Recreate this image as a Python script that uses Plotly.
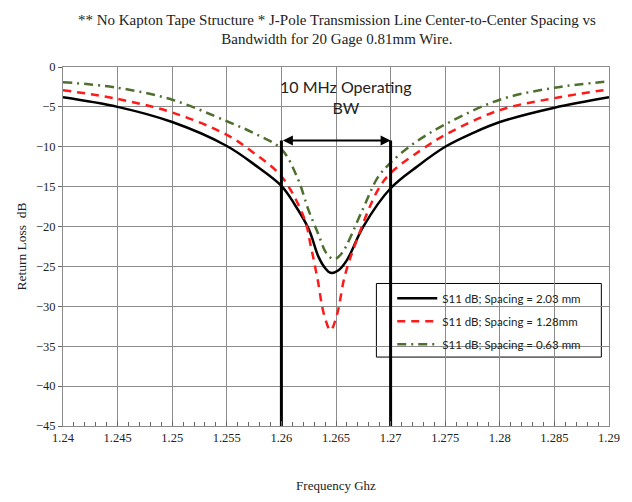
import plotly.graph_objects as go

# ---- data ----
freq_black = [1.24, 1.245, 1.25, 1.255, 1.2576, 1.26, 1.2612, 1.2625, 1.2634, 1.264, 1.2645,
              1.2652, 1.266, 1.2675, 1.27, 1.2725, 1.275, 1.2775, 1.28, 1.285, 1.29]
s11_black = [-3.8, -5.0, -6.9, -9.9, -12.3, -14.9, -17.2, -20.3, -23.8, -25.2, -25.8,
             -25.5, -24.2, -20.0, -15.2, -12.4, -10.0, -8.3, -6.9, -5.1, -3.8]

freq_red = [1.24, 1.245, 1.25, 1.255, 1.2575, 1.26, 1.2621, 1.2627, 1.2633, 1.2639, 1.2645,
            1.2651, 1.2658, 1.2669, 1.2688, 1.27, 1.2727, 1.275, 1.28, 1.285, 1.29]
s11_red = [-2.9, -4.0, -5.7, -8.5, -10.8, -13.7, -19.0, -22.5, -26.5, -31.0, -33.0,
           -31.0, -26.2, -21.7, -15.5, -13.3, -10.5, -8.5, -5.4, -3.9, -2.8]

freq_green = [1.24, 1.245, 1.25, 1.255, 1.2575, 1.26, 1.2615, 1.2625, 1.2634, 1.2641, 1.2648,
              1.2655, 1.2674, 1.2688, 1.27, 1.2721, 1.275, 1.28, 1.285, 1.29]
s11_green = [-1.9, -2.6, -4.1, -6.8, -8.3, -10.3, -14.0, -18.0, -21.0, -23.3, -24.1,
             -23.4, -18.0, -13.9, -12.0, -9.6, -7.2, -4.1, -2.6, -1.8]

series_names = ["S11 dB; Spacing = 2.03 mm", "S11 dB; Spacing = 1.28mm", "S11 dB; Spacing = 0.63 mm"]

bw_edges = [1.26, 1.27]
bw_top = -9.2
bw_label = "10 MHz Operating<br>BW"
x_ticks = [1.24, 1.245, 1.25, 1.255, 1.26, 1.265, 1.27, 1.275, 1.28, 1.285, 1.29]
x_tick_labels = ["1.24", "1.245", "1.25", "1.255", "1.26", "1.265", "1.27", "1.275", "1.28", "1.285", "1.29"]
y_ticks = [0, -5, -10, -15, -20, -25, -30, -35, -40, -45]

SERIF = "Liberation Serif, Times New Roman, serif"
SANS = "Lato, Open Sans, sans-serif"

fig = go.Figure()

fig.add_trace(go.Scatter(x=freq_black, y=s11_black, mode="lines", name=series_names[0],
                         line=dict(color="black", width=2.5, shape="spline", smoothing=1.0),
                         legendgroup="a"))
fig.add_trace(go.Scatter(x=freq_red, y=s11_red, mode="lines", name=series_names[1],
                         line=dict(color="#ff1a1a", width=2.5, dash="8px,6px", shape="spline", smoothing=1.0),
                         legendgroup="b"))
fig.add_trace(go.Scatter(x=freq_green, y=s11_green, mode="lines", name=series_names[2],
                         line=dict(color="#4f6f2f", width=2.5, dash="9px,5px,2px,5px", shape="spline", smoothing=1.0),
                         legendgroup="c"))

# bandwidth marker lines
for xe in bw_edges:
    fig.add_trace(go.Scatter(x=[xe, xe], y=[-45, bw_top], mode="lines",
                             line=dict(color="black", width=3), showlegend=False, hoverinfo="skip"))

fig.add_annotation(x=bw_edges[1], y=bw_top, ax=bw_edges[0], ay=bw_top, xref="x", yref="y",
                   axref="x", ayref="y", text="", showarrow=True, arrowhead=2, arrowside="end+start",
                   arrowsize=1, arrowwidth=2, arrowcolor="black")
fig.add_annotation(x=1.2659, y=-3.7, xref="x", yref="y", yanchor="middle",
                   text=bw_label, showarrow=False,
                   font=dict(family=SANS, size=16, color="#222"), align="center")

# legend frame (white box hiding the grid, drawn beneath the traces)
fig.add_shape(type="rect", xref="paper", yref="paper", x0=0.574, x1=0.986, y0=0.192, y1=0.397,
              fillcolor="white", line=dict(color="black", width=1), layer="between")

fig.update_layout(
    width=624, height=494,
    margin=dict(l=52, r=18, t=59, b=70),
    paper_bgcolor="white", plot_bgcolor="white",
    title=dict(text="** No Kapton Tape Structure * J-Pole Transmission Line Center-to-Center Spacing vs<br>Bandwidth for 20 Gage 0.81mm Wire.",
               x=0.527, xanchor="center", y=0.966, yanchor="middle",
               font=dict(family=SERIF, size=15, color="#222")),
    font=dict(family=SERIF, size=12, color="#222"),
    legend=dict(x=0.603, y=0.396, xanchor="left", yanchor="top",
                bgcolor="rgba(0,0,0,0)", borderwidth=0,
                font=dict(family=SANS, size=11.5, color="#222"),
                tracegroupgap=4, traceorder="grouped", itemwidth=40),
    showlegend=True,
)

fig.update_xaxes(range=[1.24, 1.29], tickvals=x_ticks, ticktext=x_tick_labels,
                 showgrid=True, gridcolor="#8c8c8c", gridwidth=1,
                 showline=True, linecolor="#8c8c8c", linewidth=1, mirror=True,
                 ticks="inside", ticklen=5, tickcolor="#666",
                 minor=dict(dtick=0.001, ticks="inside", ticklen=4, tickcolor="#666", showgrid=False),
                 zeroline=False,
                 title=dict(text="Frequency Ghz", standoff=36, font=dict(family=SERIF, size=13)),
                 tickfont=dict(size=12.5))
fig.update_yaxes(range=[-45, 0], tickvals=y_ticks,
                 showgrid=True, gridcolor="#8c8c8c", gridwidth=1,
                 showline=True, linecolor="#8c8c8c", linewidth=1, mirror=True,
                 ticks="outside", ticklen=4, tickcolor="#666", zeroline=False,
                 title=dict(text="Return Loss  dB", standoff=6, font=dict(family=SERIF, size=13.5)),
                 tickfont=dict(size=12.5))

fig.write_html("out.html")
